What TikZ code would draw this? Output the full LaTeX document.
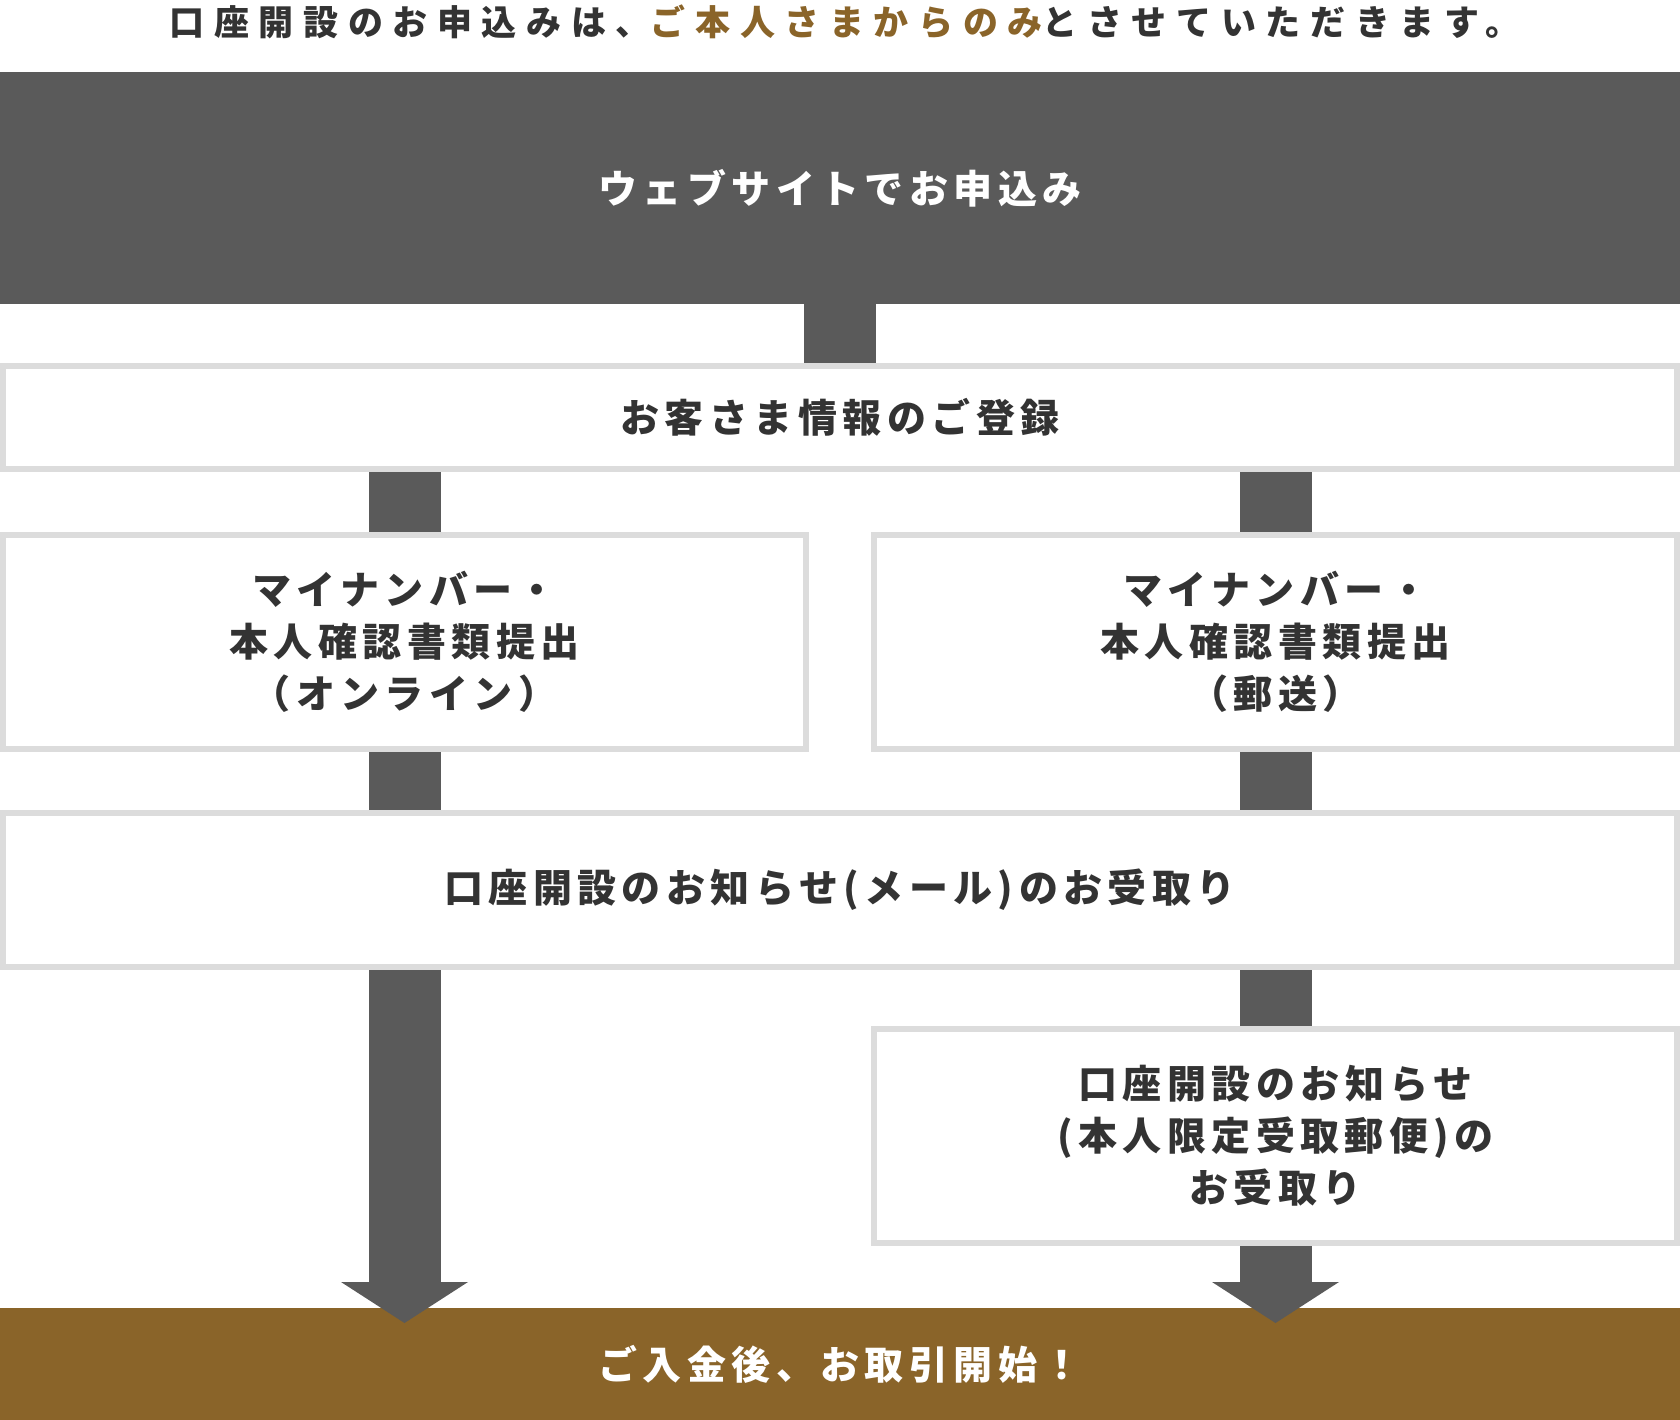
\documentclass[tikz,border=0pt]{standalone}
\usepackage{fontspec}
\setmainfont{Noto Sans CJK JP}
\usetikzlibrary{calc}
\definecolor{dk}{HTML}{5A5A5A}
\definecolor{gd}{HTML}{8A6429}
\definecolor{bd}{HTML}{DCDCDC}
\definecolor{tx}{HTML}{333333}
\newcommand\bodyfnt{\fontsize{39}{52}\selectfont\bfseries\addfontfeature{LetterSpace=14}}
\newcommand\titlefnt{\fontsize{35}{40}\selectfont\bfseries\addfontfeature{LetterSpace=27.5}}
\newcommand\goldfnt{\fontsize{39}{52}\selectfont\bfseries\addfontfeature{LetterSpace=14}}
\tikzset{
  box/.style={draw=bd, line width=6pt, fill=white, inner sep=0pt, align=center, text=tx, font=\bodyfnt},
  band/.style={inner sep=0pt, minimum width=1680pt, text=white},
  conn/.style={draw=dk, line width=72pt},
  head/.style={fill=dk}
}
\begin{document}
\begin{tikzpicture}[x=1pt,y=-1pt]
\useasboundingbox (0,0) rectangle (1680,1420);
\node[text=tx, font=\titlefnt, inner sep=0pt] (title) at (845,22)
  {口座開設のお申込みは、\textcolor{gd}{ご本人さまからのみ}とさせていただきます。};
\node[band, fill=dk, minimum height=232pt, font=\bodyfnt] (web) at (840,188) {ウェブサイトでお申込み};
\node[box, minimum width=1674pt, minimum height=103pt] (reg) at (840,417.5) {お客さま情報のご登録};
\node[box, minimum width=803pt, minimum height=214pt] (onl) at (404.5,642)
  {マイナンバー・\\本人確認書類提出\\（オンライン）};
\node[box, minimum width=803pt, minimum height=214pt] (mail) at (1275.5,642)
  {マイナンバー・\\本人確認書類提出\\（郵送）};
\node[box, minimum width=1674pt, minimum height=154pt] (notice) at (840,890)
  {口座開設のお知らせ(メール)のお受取り};
\node[box, minimum width=803pt, minimum height=214pt] (post) at (1275.5,1136)
  {口座開設のお知らせ\\(本人限定受取郵便)の\\お受取り};
\node[band, fill=gd, minimum height=112pt, font=\goldfnt] (start) at (840,1364) {ご入金後、お取引開始！};
\coordinate (tipL) at (404.5,1323);
\coordinate (tipR) at (1275.5,1323);
\draw[conn] (web.south) -- (reg.north);
\draw[conn] (reg.south -| onl.north) -- (onl.north);
\draw[conn] (reg.south -| mail.north) -- (mail.north);
\draw[conn] (onl.south) -- (notice.north -| onl.south);
\draw[conn] (mail.south) -- (notice.north -| mail.south);
\draw[conn] (notice.south -| post.north) -- (post.north);
\draw[conn] (notice.south -| tipL) -- ($(tipL)+(0,-41)$);
\fill[head] ($(tipL)+(-63.5,-41)$) -- ($(tipL)+(63.5,-41)$) -- (tipL) -- cycle;
\draw[conn] (post.south) -- ($(tipR)+(0,-41)$);
\fill[head] ($(tipR)+(-63.5,-41)$) -- ($(tipR)+(63.5,-41)$) -- (tipR) -- cycle;
\end{tikzpicture}
\end{document}
